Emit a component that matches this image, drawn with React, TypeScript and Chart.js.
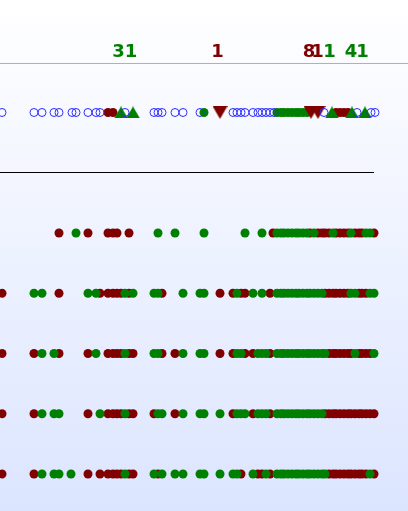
import React, { useEffect, useRef } from 'react';
import { Chart, registerables } from 'chart.js';

Chart.register(...registerables);

// ---- data (x positions along the time axis, rows are categories) ----
const topCircles = [2, 34, 42, 54, 59, 72, 76, 88, 96, 100, 125, 154, 158, 162, 175, 183, 200, 233, 237, 241, 245, 253, 258, 262, 266, 270, 274, 324, 357, 371, 375];
const topRed = [108, 113, 336, 340, 344, 348];
const topGreen = [204, 277, 281, 284, 288, 292, 296, 299, 303, 307];
const topUpTriangles = [121, 133, 332, 352, 365];
const topDownTriangles = [220, 311, 318];

const labelX = [118.5, 131, 217.5, 309, 317.5, 329.5, 351, 362.5];
const labelText = ['3', '1', '1', '8', '1', '1', '4', '1'];
const labelIsRed = [false, false, true, true, true, false, false, false];

const row1Red = [59, 88, 108, 113, 117, 129, 273, 310, 318, 322, 325, 329, 336, 340, 344, 348, 355, 359, 362, 374];
const row1Green = [76, 158, 175, 204, 245, 262, 277, 281, 284, 288, 292, 296, 299, 303, 307, 314, 333, 351, 366, 370];

const row2Red = [2, 59, 100, 108, 113, 117, 121, 129, 162, 220, 233, 241, 245, 270, 325, 329, 333, 336, 340, 344, 348, 359, 362, 366];
const row2Green = [34, 42, 88, 96, 125, 133, 154, 158, 183, 200, 204, 237, 253, 262, 277, 281, 284, 288, 292, 296, 299, 303, 307, 310, 314, 318, 322, 351, 355, 370, 374];

const row3Red = [2, 34, 59, 88, 108, 113, 117, 121, 129, 133, 162, 175, 220, 233, 245, 253, 270, 329, 333, 336, 340, 344, 348, 351, 359, 362, 366, 370];
const row3Green = [42, 54, 96, 125, 154, 158, 183, 200, 204, 237, 241, 258, 262, 266, 277, 281, 284, 288, 292, 296, 299, 303, 307, 310, 314, 318, 322, 325, 355, 374];

const row4Red = [2, 34, 88, 108, 113, 117, 121, 129, 133, 154, 175, 233, 253, 270, 325, 329, 333, 336, 340, 344, 348, 351, 355, 359, 362, 366, 370, 374];
const row4Green = [42, 54, 59, 100, 125, 158, 162, 183, 200, 204, 220, 237, 241, 245, 258, 262, 266, 277, 281, 284, 288, 292, 296, 299, 303, 307, 310, 314, 318, 322];

const row5Red = [2, 34, 88, 100, 108, 113, 117, 121, 129, 133, 158, 241, 258, 262, 270, 329, 333, 336, 340, 344, 348, 351, 355, 359, 362, 366, 374];
const row5Green = [42, 54, 59, 71, 125, 154, 162, 175, 183, 200, 204, 220, 233, 237, 253, 266, 277, 281, 284, 288, 292, 296, 299, 303, 307, 310, 314, 318, 322, 325, 370];

// row category values (top row, then the five lower rows)
const TOP_ROW = 0;
const lowerRows = [2, 3, 4, 5, 6];
const LABEL_ROW = -1;
const SEPARATOR_ROW = -0.8133;
const DIVIDER_ROW = 0.996;
const DIVIDER_END = 374;

const RED = '#800000';
const GREEN = '#008000';
const BLUE = 'rgb(45,45,255)';

function makeTriangle(color: string, w: number, h: number, up: boolean) {
  const c = document.createElement('canvas');
  c.width = w;
  c.height = h;
  const ctx = c.getContext('2d')!;
  ctx.fillStyle = color;
  ctx.beginPath();
  if (up) {
    ctx.moveTo(w / 2, 0);
    ctx.lineTo(w, h);
    ctx.lineTo(0, h);
  } else {
    ctx.moveTo(0, 0);
    ctx.lineTo(w, 0);
    ctx.lineTo(w / 2, h);
  }
  ctx.closePath();
  ctx.fill();
  return c;
}

const pts = (xs: number[], y: number) => xs.map((x) => ({ x, y }));

export default function App() {
  const ref = useRef<HTMLCanvasElement | null>(null);

  useEffect(() => {
    if (!ref.current) return;
    const upTri = makeTriangle(GREEN, 14, 12, true);
    const downTri = makeTriangle(RED, 15, 13, false);

    const redDots = [
      ...pts(topRed, TOP_ROW),
      ...pts(row1Red, lowerRows[0]),
      ...pts(row2Red, lowerRows[1]),
      ...pts(row3Red, lowerRows[2]),
      ...pts(row4Red, lowerRows[3]),
      ...pts(row5Red, lowerRows[4]),
    ];
    const greenDots = [
      ...pts(topGreen, TOP_ROW),
      ...pts(row1Green, lowerRows[0]),
      ...pts(row2Green, lowerRows[1]),
      ...pts(row3Green, lowerRows[2]),
      ...pts(row4Green, lowerRows[3]),
      ...pts(row5Green, lowerRows[4]),
    ];

    const bgPlugin = {
      id: 'bg',
      beforeDraw(chart: any) {
        const { ctx, width, height } = chart;
        const g = ctx.createLinearGradient(0, 0, 0, height);
        g.addColorStop(0, 'rgb(255,255,255)');
        g.addColorStop(1, 'rgb(220,229,255)');
        ctx.save();
        ctx.fillStyle = g;
        ctx.fillRect(0, 0, width, height);
        ctx.restore();
      },
    };

    const labelPlugin = {
      id: 'countLabels',
      afterDatasetsDraw(chart: any) {
        const { ctx } = chart;
        const xs = chart.scales.x;
        const ys = chart.scales.y;
        ctx.save();
        ctx.font = 'bold 18px "DejaVu Sans"';
        ctx.textAlign = 'center';
        ctx.textBaseline = 'middle';
        labelX.forEach((x, i) => {
          ctx.fillStyle = labelIsRed[i] ? RED : GREEN;
          ctx.fillText(labelText[i], xs.getPixelForValue(x), ys.getPixelForValue(LABEL_ROW));
        });
        ctx.restore();
      },
    };

    const chart = new Chart(ref.current, {
      type: 'scatter',
      data: {
        datasets: [
          {
            type: 'line',
            data: [{ x: 0, y: SEPARATOR_ROW }, { x: 408, y: SEPARATOR_ROW }],
            borderColor: 'rgb(238,150,150)',
            borderWidth: 1,
            pointRadius: 0,
            order: 5,
          } as any,
          {
            type: 'line',
            data: [{ x: 0, y: DIVIDER_ROW }, { x: DIVIDER_END, y: DIVIDER_ROW }],
            borderColor: '#000000',
            borderWidth: 1,
            pointRadius: 0,
            order: 5,
          } as any,
          {
            data: redDots,
            pointRadius: 4.5,
            pointBorderWidth: 0,
            pointBackgroundColor: RED,
            borderColor: RED,
            order: 4,
          },
          {
            data: greenDots,
            pointRadius: 4.5,
            pointBorderWidth: 0,
            pointBackgroundColor: GREEN,
            borderColor: GREEN,
            order: 3,
          },
          {
            data: pts(topDownTriangles, TOP_ROW),
            pointStyle: downTri as any,
            pointRadius: 8,
            order: 2,
          },
          {
            data: pts(topUpTriangles, TOP_ROW),
            pointStyle: upTri as any,
            pointRadius: 7,
            order: 1,
          },
          {
            data: pts(topCircles, TOP_ROW),
            pointRadius: 4,
            pointBorderWidth: 1,
            pointBorderColor: BLUE,
            pointBackgroundColor: 'rgba(0,0,0,0)',
            order: 0,
          },
        ],
      },
      options: {
        responsive: false,
        animation: false,
        events: [],
        layout: { padding: 0, autoPadding: false },
        plugins: { legend: { display: false }, tooltip: { enabled: false } },
        scales: {
          x: { type: 'linear', display: false, min: 0, max: 408 },
          y: { type: 'linear', display: false, reverse: true, min: -1.8672, max: 6.6141 },
        },
      },
      plugins: [bgPlugin, labelPlugin],
    });
    return () => chart.destroy();
  }, []);

  return (
    <div style={{ position: 'absolute', left: 0, top: 0, width: 408, height: 511 }}>
      <canvas ref={ref} width={408} height={511} style={{ display: 'block', width: 408, height: 511 }} />
    </div>
  );
}
